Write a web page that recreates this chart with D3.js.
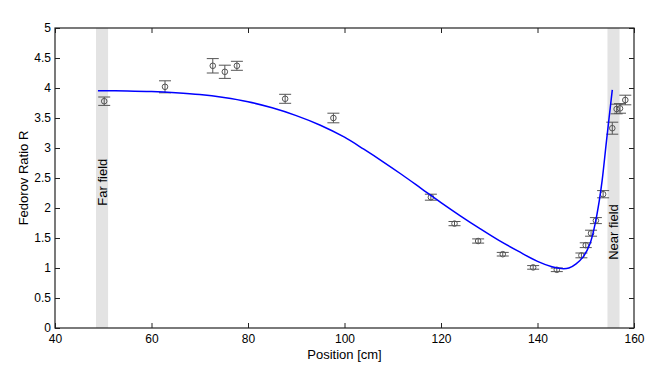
<!DOCTYPE html>
<html><head><meta charset="utf-8">
<script src="https://cdn.jsdelivr.net/npm/d3@7"></script>
<style>body{margin:0;background:#fff}svg{display:block;font-family:"Liberation Sans",Arial,sans-serif}</style>
</head><body><svg id="c" width="664" height="371"></svg>
<script>
// measured points
const posX = [50.2, 62.8, 72.7, 75.2, 77.7, 87.7, 97.7, 117.9, 122.8, 127.7, 132.8, 139.1, 144.0, 149.1, 150.0, 151.1, 152.1, 153.6, 155.5, 156.4, 157.1, 158.2];
const ratioR = [3.78, 4.02, 4.37, 4.27, 4.37, 3.82, 3.50, 2.18, 1.74, 1.45, 1.23, 1.01, 0.97, 1.21, 1.38, 1.58, 1.79, 2.23, 3.33, 3.65, 3.66, 3.80];
const errR = [0.07, 0.10, 0.12, 0.11, 0.075, 0.075, 0.08, 0.05, 0.035, 0.035, 0.03, 0.03, 0.03, 0.04, 0.04, 0.05, 0.05, 0.06, 0.1, 0.08, 0.08, 0.08];
// model curve
const curveX = [48.9, 55, 60, 65, 70, 75, 80, 85, 90, 95, 100, 104, 108, 112, 116, 120, 124, 128, 132, 136, 140, 143, 145, 146.5, 148, 149.5, 150.9, 151.9, 152.8, 153.4, 154.3, 155.5];
const curveY = [3.955, 3.95, 3.94, 3.92, 3.89, 3.84, 3.77, 3.67, 3.54, 3.38, 3.18, 2.98, 2.77, 2.55, 2.32, 2.09, 1.87, 1.66, 1.46, 1.28, 1.11, 1.02, 0.99, 1.0, 1.07, 1.19, 1.41, 1.72, 2.12, 2.46, 3.12, 3.97];
// shaded zones
const zoneStart = [48.5, 154.5];
const zoneEnd = [51.0, 157.0];
const zoneLabel = ["Far field", "Near field"];
const zoneLabelY = [2.43, 1.6];
const xTicks = [40, 60, 80, 100, 120, 140, 160];
const yTicks = [0, 0.5, 1, 1.5, 2, 2.5, 3, 3.5, 4, 4.5, 5];

const svg = d3.select("#c");
const L = 55, R = 634, T = 28, B = 328;
const x = d3.scaleLinear().domain([40, 160]).range([L, R]);
const y = d3.scaleLinear().domain([0, 5]).range([B, T]);

// zones
zoneStart.forEach((s, i) => {
  svg.append("rect").attr("x", x(s)).attr("y", T).attr("width", x(zoneEnd[i]) - x(s)).attr("height", B - T).attr("fill", "#e3e3e3");
  const cx = (x(s) + x(zoneEnd[i])) / 2, cy = y(zoneLabelY[i]);
  svg.append("text").attr("transform", `translate(${cx + 4.5},${cy}) rotate(-90)`).attr("text-anchor", "middle")
    .attr("font-size", 13).attr("fill", "#000").text(zoneLabel[i]);
});

// axes
const tickLen = 5;
svg.append("g").attr("transform", `translate(0,${B})`).call(d3.axisBottom(x).tickValues(xTicks).tickSize(-tickLen).tickPadding(4).tickFormat(d3.format("d")))
  .call(g => { g.select(".domain").remove(); g.selectAll("text").attr("font-size", 12).attr("fill", "#000").attr("dy", "0.9em"); g.selectAll("line").attr("stroke", "#222"); });
svg.append("g").attr("transform", `translate(0,${T})`).call(d3.axisTop(x).tickValues(xTicks).tickSize(-tickLen).tickFormat(""))
  .call(g => { g.select(".domain").remove(); g.selectAll("line").attr("stroke", "#222"); });
svg.append("g").attr("transform", `translate(${L},0)`).call(d3.axisLeft(y).tickValues(yTicks).tickSize(-tickLen).tickPadding(4).tickFormat(d => d3.format("")(d)))
  .call(g => { g.select(".domain").remove(); g.selectAll("text").attr("font-size", 12).attr("fill", "#000"); g.selectAll("line").attr("stroke", "#222"); });
svg.append("g").attr("transform", `translate(${R},0)`).call(d3.axisRight(y).tickValues(yTicks).tickSize(-tickLen).tickFormat(""))
  .call(g => { g.select(".domain").remove(); g.selectAll("line").attr("stroke", "#222"); });
svg.append("rect").attr("x", L).attr("y", T).attr("width", R - L).attr("height", B - T).attr("fill", "none").attr("stroke", "#222").attr("stroke-width", 1.2);

// error bars
const pts = posX.map((v, i) => ({ x: v, y: ratioR[i], e: errR[i] }));
const eb = svg.append("g").attr("stroke", "#555").attr("fill", "none").attr("stroke-width", 1);
pts.forEach(p => {
  const px = x(p.x), cap = 6;
  eb.append("line").attr("x1", px).attr("x2", px).attr("y1", y(p.y - p.e)).attr("y2", y(p.y + p.e));
  eb.append("line").attr("x1", px - cap).attr("x2", px + cap).attr("y1", y(p.y - p.e)).attr("y2", y(p.y - p.e));
  eb.append("line").attr("x1", px - cap).attr("x2", px + cap).attr("y1", y(p.y + p.e)).attr("y2", y(p.y + p.e));
  eb.append("circle").attr("cx", px).attr("cy", y(p.y)).attr("r", 2.8);
});

// model line
const line = d3.line().x(d => x(d[0])).y(d => y(d[1])).curve(d3.curveCatmullRom.alpha(0.5));
svg.append("path").datum(curveX.map((v, i) => [v, curveY[i]])).attr("d", line)
  .attr("fill", "none").attr("stroke", "#0000ff").attr("stroke-width", 1.5);

// axis labels
svg.append("text").attr("x", (L + R) / 2).attr("y", 359).attr("text-anchor", "middle").attr("font-size", 13).text("Position [cm]");
svg.append("text").attr("transform", `translate(28,${(T + B) / 2}) rotate(-90)`).attr("text-anchor", "middle").attr("font-size", 13).text("Fedorov Ratio R");
</script></body></html>
